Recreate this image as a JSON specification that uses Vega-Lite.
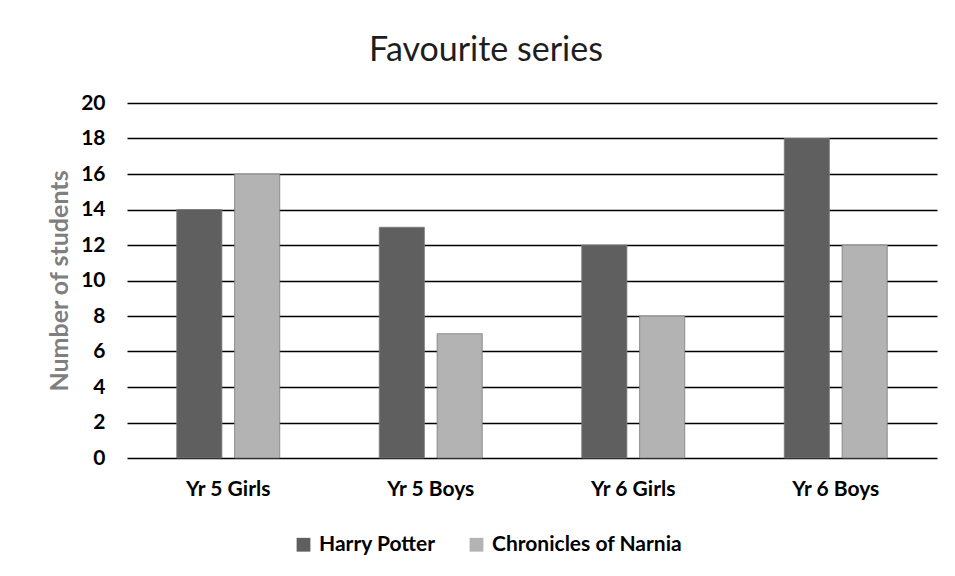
{
  "$schema": "https://vega.github.io/schema/vega-lite/v6.json",
  "width": 810,
  "height": 355,
  "autosize": {"type": "none"},
  "padding": {"left": 127, "top": 103, "right": 18, "bottom": 118},
  "background": "white",
  "config": {
    "font": "Lato",
    "view": {"stroke": null}
  },
  "title": {
    "text": "Favourite series",
    "fontSize": 34,
    "fontWeight": "normal",
    "color": "#1e1e1e",
    "anchor": "middle",
    "dx": -46,
    "offset": 24
  },
  "data": {
    "values": [
      {"group": "Yr 5 Girls", "series": "Harry Potter", "value": 14},
      {"group": "Yr 5 Girls", "series": "Chronicles of Narnia", "value": 16},
      {"group": "Yr 5 Boys", "series": "Harry Potter", "value": 13},
      {"group": "Yr 5 Boys", "series": "Chronicles of Narnia", "value": 7},
      {"group": "Yr 6 Girls", "series": "Harry Potter", "value": 12},
      {"group": "Yr 6 Girls", "series": "Chronicles of Narnia", "value": 8},
      {"group": "Yr 6 Boys", "series": "Harry Potter", "value": 18},
      {"group": "Yr 6 Boys", "series": "Chronicles of Narnia", "value": 12}
    ]
  },
  "mark": {"type": "bar", "stroke": "#7a7a7a", "strokeWidth": 0.8},
  "encoding": {
    "x": {
      "field": "group",
      "type": "nominal",
      "sort": ["Yr 5 Girls", "Yr 5 Boys", "Yr 6 Girls", "Yr 6 Boys"],
      "scale": {"paddingInner": 0.4, "paddingOuter": 0.2},
      "axis": {
        "title": null,
        "labelAngle": 0,
        "labelFontSize": 21,
        "labelFontWeight": "bold",
        "labelColor": "#000000",
        "labelPadding": 20,
        "ticks": false,
        "domain": false
      }
    },
    "xOffset": {
      "field": "series",
      "type": "nominal",
      "sort": ["Harry Potter", "Chronicles of Narnia"],
      "scale": {"paddingInner": 0.22, "paddingOuter": 0.16}
    },
    "y": {
      "field": "value",
      "type": "quantitative",
      "scale": {"domain": [0, 20]},
      "axis": {
        "title": "Number of students",
        "titleFontSize": 25,
        "titleFontWeight": "bold",
        "titleColor": "#7f7f7f",
        "titlePadding": 8,
        "values": [0, 2, 4, 6, 8, 10, 12, 14, 16, 18, 20],
        "labelFontSize": 21,
        "labelFontWeight": "bold",
        "labelColor": "#000000",
        "labelPadding": 22,
        "ticks": false,
        "domain": false,
        "grid": true,
        "gridColor": "#000000",
        "gridWidth": 1.5
      }
    },
    "color": {
      "field": "series",
      "type": "nominal",
      "sort": ["Harry Potter", "Chronicles of Narnia"],
      "scale": {"domain": ["Harry Potter", "Chronicles of Narnia"], "range": ["#5f5f5f", "#b3b3b3"]},
      "legend": {
        "title": null,
        "orient": "none",
        "direction": "horizontal",
        "legendX": 166,
        "legendY": 431,
        "symbolType": "square",
        "symbolSize": 190,
        "symbolStrokeWidth": 0,
        "labelFontSize": 21,
        "labelFontWeight": "bold",
        "labelColor": "#000000",
        "labelLimit": 400,
        "columnPadding": 30,
        "labelOffset": 5
      }
    }
  }
}
